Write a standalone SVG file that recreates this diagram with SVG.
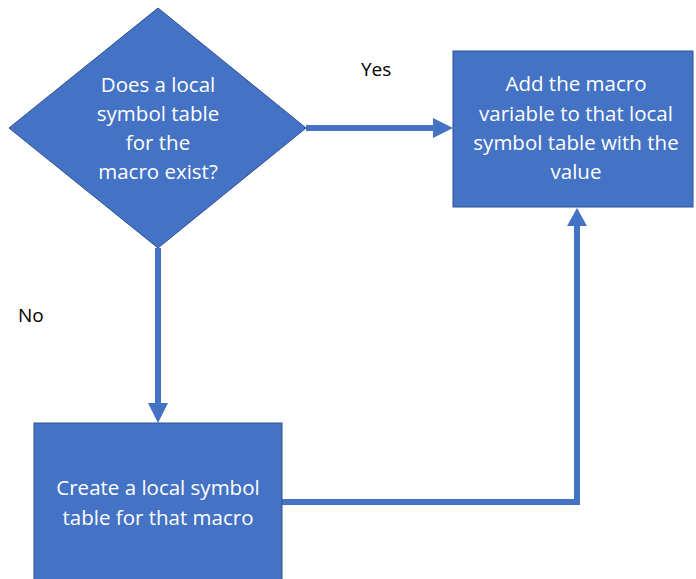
<svg xmlns="http://www.w3.org/2000/svg" width="696" height="579" viewBox="0 0 696 579">
<style>
.shape{fill:#4472C4;stroke:#2F528F;stroke-width:1}
.t{fill:#FFFFFF;font-family:"Open Sans","Liberation Sans",sans-serif;font-size:20.5px;text-anchor:middle}
.lbl{fill:#000000;font-family:"Open Sans","Liberation Sans",sans-serif;font-size:19px}
.conn{fill:none;stroke:#4472C4;stroke-width:6}
.head{fill:#4472C4}
</style>
<rect width="696" height="579" fill="#FFFFFF"/>
<g id="connectors">
<line class="conn" x1="306" y1="128" x2="436" y2="128"/>
<polygon class="head" points="433,118 453,128 433,138"/>
<line class="conn" x1="158" y1="248" x2="158" y2="405"/>
<polygon class="head" points="148,403 168,403 158,423"/>
<polyline class="conn" points="282,502 577,502 577,223"/>
<polygon class="head" points="567,226 587,226 577,208"/>
</g>
<g id="decision">
<polygon class="shape" points="158,8 306,128 158,248 9,128"/>
<text class="t" x="158" y="92">Does a local</text>
<text class="t" x="158" y="121">symbol table</text>
<text class="t" x="158" y="150">for the</text>
<text class="t" x="158" y="179">macro exist?</text>
</g>
<g id="add">
<rect class="shape" x="453" y="51" width="240" height="156"/>
<text class="t" x="576" y="91">Add the macro</text>
<text class="t" x="576" y="121">variable to that local</text>
<text class="t" x="576" y="150">symbol table with the</text>
<text class="t" x="576" y="179">value</text>
</g>
<g id="create">
<rect class="shape" x="34" y="423" width="248" height="160"/>
<text class="t" x="158" y="495">Create a local symbol</text>
<text class="t" x="158" y="525">table for that macro</text>
</g>
<g id="labels">
<text class="lbl" x="361" y="76">Yes</text>
<text class="lbl" x="18" y="322">No</text>
</g>
</svg>
